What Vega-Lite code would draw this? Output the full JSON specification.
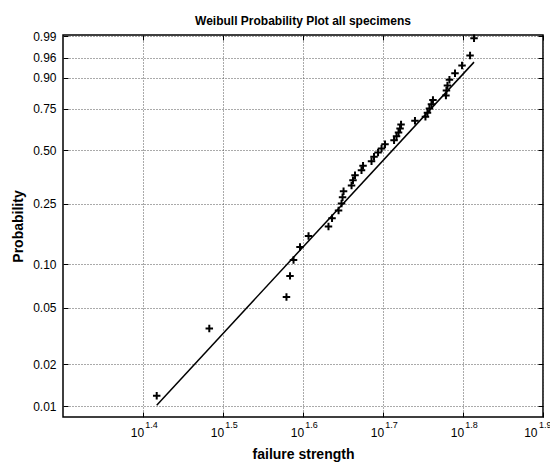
{
  "$schema": "https://vega.github.io/schema/vega-lite/v6.json",
  "width": 480,
  "height": 382,
  "autosize": {"type": "none"},
  "padding": {"left": 63, "top": 35, "right": 7, "bottom": 45},
  "background": "white",
  "title": {"text": "Weibull Probability Plot all specimens", "font": "Liberation Sans", "fontSize": 12, "fontWeight": "bold", "color": "#000", "offset": 2, "anchor": "middle"},
  "config": {
    "view": {"stroke": "#000", "strokeWidth": 1.5},
    "axis": {
      "labelFont": "Liberation Sans", "labelFontSize": 12, "labelColor": "#000",
      "tickColor": "#000", "tickWidth": 1,
      "gridColor": "#555", "gridDash": [1, 2], "gridOpacity": 1, "gridWidth": 1,
      "domain": false,
      "titleFont": "Liberation Sans", "titleFontSize": 14, "titleFontWeight": "bold", "titleColor": "#000"
    }
  },
  "datasets": {
    "specimens": [
      {"strength": 26.13, "p": 0.0119},
      {"strength": 30.40, "p": 0.0357},
      {"strength": 37.96, "p": 0.0595},
      {"strength": 38.35, "p": 0.0833},
      {"strength": 38.74, "p": 0.1071},
      {"strength": 39.47, "p": 0.1310},
      {"strength": 40.45, "p": 0.1548},
      {"strength": 42.84, "p": 0.1786},
      {"strength": 43.28, "p": 0.2024},
      {"strength": 44.10, "p": 0.2262},
      {"strength": 44.48, "p": 0.2500},
      {"strength": 44.61, "p": 0.2738},
      {"strength": 44.74, "p": 0.2976},
      {"strength": 45.78, "p": 0.3214},
      {"strength": 45.97, "p": 0.3452},
      {"strength": 46.24, "p": 0.3690},
      {"strength": 47.11, "p": 0.3929},
      {"strength": 47.32, "p": 0.4167},
      {"strength": 48.49, "p": 0.4405},
      {"strength": 48.84, "p": 0.4643},
      {"strength": 49.41, "p": 0.4881},
      {"strength": 49.91, "p": 0.5119},
      {"strength": 50.41, "p": 0.5357},
      {"strength": 51.74, "p": 0.5595},
      {"strength": 52.11, "p": 0.5833},
      {"strength": 52.41, "p": 0.6071},
      {"strength": 52.64, "p": 0.6310},
      {"strength": 52.79, "p": 0.6548},
      {"strength": 54.95, "p": 0.6786},
      {"strength": 56.63, "p": 0.7024},
      {"strength": 56.96, "p": 0.7262},
      {"strength": 57.29, "p": 0.7500},
      {"strength": 57.62, "p": 0.7738},
      {"strength": 57.87, "p": 0.7976},
      {"strength": 60.07, "p": 0.8214},
      {"strength": 60.16, "p": 0.8452},
      {"strength": 60.33, "p": 0.8690},
      {"strength": 60.68, "p": 0.8929},
      {"strength": 61.66, "p": 0.9167},
      {"strength": 62.92, "p": 0.9405},
      {"strength": 64.39, "p": 0.9643},
      {"strength": 65.13, "p": 0.9881}
    ],
    "fit": [
      {"strength": 26.13, "p": 0.01018},
      {"strength": 65.13, "p": 0.9497}
    ]
  },
  "layer": [
    {
      "data": {"name": "specimens"},
      "transform": [{"calculate": "-log(1 - datum.p)", "as": "h"}],
      "mark": {"type": "point", "shape": "M-1,0H1M0,-1V1", "filled": false, "stroke": "#000", "strokeWidth": 2, "size": 56, "opacity": 1},
      "encoding": {
        "x": {"field": "strength", "type": "quantitative",
          "scale": {"type": "log", "domain": [19.9526, 79.4328], "nice": false},
          "axis": {"orient": "bottom", "values": [25.1189, 31.6228, 39.8107, 50.1187, 63.0957, 79.4328], "labelExpr": "'10'", "grid": true, "tickSize": -5, "labelPadding": 15, "labelOffset": -6, "title": "failure strength", "titlePadding": 9}},
        "y": {"field": "h", "type": "quantitative",
          "scale": {"type": "log", "domain": [0.008418, 4.683], "nice": false},
          "axis": {"orient": "left", "values": [0.0100503, 0.0202027, 0.0512933, 0.1053605, 0.2876821, 0.6931472, 1.3862944, 2.3025851, 3.2188758, 4.6051702], "labelExpr": "format(1 - exp(-datum.value), '.2f')", "grid": true, "tickSize": -5, "labelPadding": 12, "title": "Probability", "titlePadding": 7}}
      }
    },
    {
      "data": {"name": "fit"},
      "transform": [{"calculate": "-log(1 - datum.p)", "as": "h"}],
      "mark": {"type": "line", "color": "#000", "strokeWidth": 1.5},
      "encoding": {
        "x": {"field": "strength", "type": "quantitative",
          "scale": {"type": "log", "domain": [19.9526, 79.4328], "nice": false},
          "axis": {"orient": "bottom", "values": [25.1189, 31.6228, 39.8107, 50.1187, 63.0957, 79.4328], "labelExpr": "format(log(datum.value) / log(10), '.1f')", "labelFontSize": 9, "labelOffset": 8, "ticks": false, "grid": false, "labelPadding": 3, "title": null}},
        "y": {"field": "h", "type": "quantitative",
          "scale": {"type": "log", "domain": [0.008418, 4.683], "nice": false},
          "axis": {"orient": "right", "values": [0.0100503, 0.0202027, 0.0512933, 0.1053605, 0.2876821, 0.6931472, 1.3862944, 2.3025851, 3.2188758, 4.6051702], "labels": false, "grid": false, "tickSize": -5, "title": null}}
      }
    },
    {
      "data": {"name": "fit"},
      "transform": [{"calculate": "-log(1 - datum.p)", "as": "h"}],
      "mark": {"type": "line", "color": "#000", "strokeWidth": 1.5, "opacity": 0},
      "encoding": {
        "x": {"field": "strength", "type": "quantitative",
          "scale": {"type": "log", "domain": [19.9526, 79.4328], "nice": false},
          "axis": {"orient": "top", "values": [25.1189, 31.6228, 39.8107, 50.1187, 63.0957, 79.4328], "labels": false, "grid": false, "tickSize": -5, "title": null}},
        "y": {"field": "h", "type": "quantitative",
          "scale": {"type": "log", "domain": [0.008418, 4.683], "nice": false},
          "axis": null}
      }
    }
  ],
  "resolve": {"axis": {"x": "independent", "y": "independent"}}
}
